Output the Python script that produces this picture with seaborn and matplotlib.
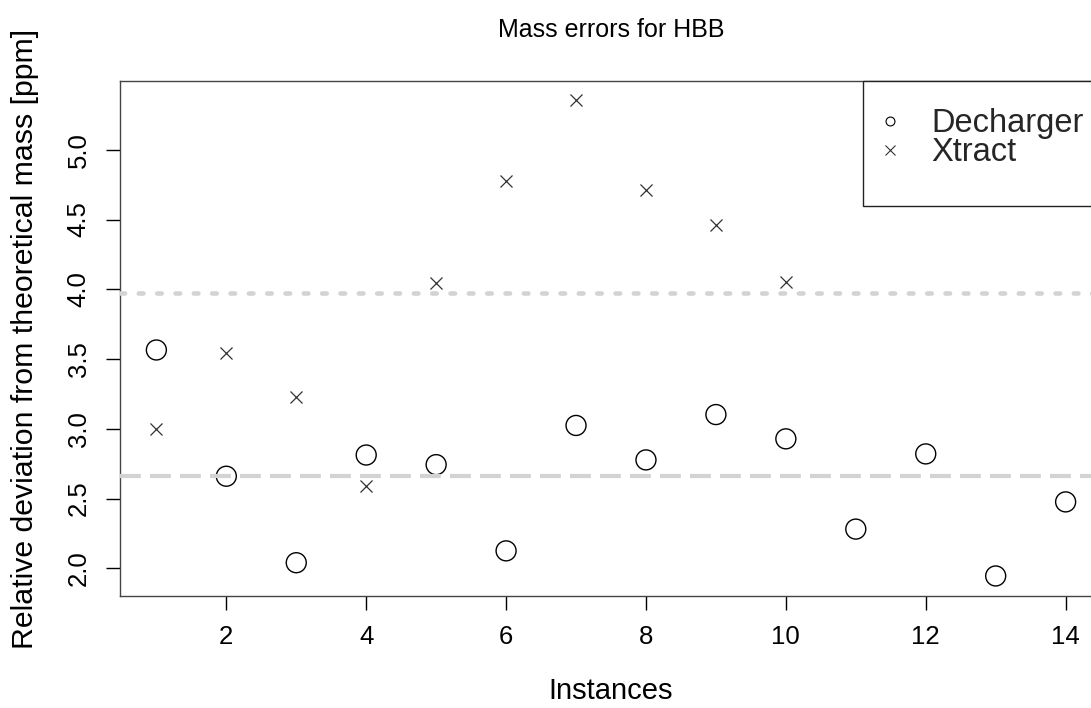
import numpy as np
import pandas as pd
import matplotlib
matplotlib.use("Agg")
import matplotlib.pyplot as plt
import seaborn as sns
from matplotlib.lines import Line2D
from matplotlib.patches import Rectangle

# ---- data ----
decharger_instances = list(range(1, 15))
decharger_values = [3.565, 2.66, 2.04, 2.812, 2.743, 2.125, 3.024, 2.777,
                    3.102, 2.928, 2.281, 2.82, 1.945, 2.476]
xtract_instances = list(range(1, 11))
xtract_values = [3.0, 3.54, 3.226, 2.59, 4.043, 4.774, 5.355, 4.713, 4.459, 4.052]
series_names = ["Decharger", "Xtract"]
title = "Mass errors for HBB"
x_label = "Instances"
y_label = "Relative deviation from theoretical mass [ppm]"
x_ticks = [2, 4, 6, 8, 10, 12, 14]
y_ticks = [2.0, 2.5, 3.0, 3.5, 4.0, 4.5, 5.0]
y_tick_labels = ["2.0", "2.5", "3.0", "3.5", "4.0", "4.5", "5.0"]

df_d = pd.DataFrame({"instance": decharger_instances, "value": decharger_values})
df_x = pd.DataFrame({"instance": xtract_instances, "value": xtract_values})

sns.set_style("white")
plt.rcParams["font.family"] = ["Liberation Sans", "DejaVu Sans"]

W, H = 1091, 708
fig = plt.figure(figsize=(W / 100, H / 100), dpi=100)
ax = fig.add_axes([120 / W, 112 / H, 982 / W, 515 / H])

sns.scatterplot(data=df_d, x="instance", y="value", marker="o", s=207,
                ax=ax, legend=False, zorder=3)
c = ax.collections[-1]
c.set_facecolor("none")
c.set_edgecolor("black")
c.set_linewidth(1.0)

sns.scatterplot(data=df_x, x="instance", y="value", marker="x", s=75,
                color="#333333", linewidth=0.9, ax=ax, legend=False, zorder=3)

ax.axhline(np.mean(xtract_values), color="#d3d3d3", lw=3.3,
           ls=(0, (1, 3.0)), dash_capstyle="round", zorder=4)
ax.axhline(np.mean(decharger_values), color="#d3d3d3", lw=3,
           ls=(0, (5.0, 2.2)), zorder=4)

ax.set_xlim(0.48, 14.52)
ax.set_ylim(1.8014, 5.4932)
ax.set_xticks(x_ticks)
ax.set_xticklabels([str(t) for t in x_ticks])
ax.set_yticks(y_ticks)
ax.set_yticklabels(y_tick_labels, rotation=90, va="center")
ax.tick_params(axis="both", direction="out", length=10, width=1,
               color="black", labelsize=18.5, pad=11, labelcolor="black",
               bottom=True, left=True)
for s in ax.spines.values():
    s.set_color("#444444")
    s.set_linewidth(1.0)

ax.set_title(title, fontsize=18, pad=32, color="black")
ax.set_xlabel(x_label, fontsize=21, color="black")
ax.xaxis.set_label_coords(0.5, -0.157)
ax.set_ylabel(y_label, fontsize=21.8, color="black")
ax.yaxis.set_label_coords(-0.0825, 0.5)

# legend box
fig.patches.append(Rectangle((863 / W, 1 - 206 / H), (1100 - 863) / W,
                             (206 - 81) / H, transform=fig.transFigure,
                             facecolor="white", edgecolor="#222222", lw=1.0,
                             zorder=5))
handles = [
    Line2D([], [], marker="o", ls="none", mfc="none", mec="black", ms=6.4, mew=0.8),
    Line2D([], [], marker="x", ls="none", color="#333333", ms=6.8, mew=0.8),
]
leg = fig.legend(handles, series_names, loc="upper left",
                 bbox_to_anchor=(863 / W + 14.8 / W, 1 - 108 / H),
                 bbox_transform=fig.transFigure, frameon=False, fontsize=23.5,
                 borderpad=0, borderaxespad=0, handlelength=0.75,
                 handletextpad=0.88, labelspacing=-0.05)
leg.set_zorder(6)

fig.savefig("out.png", dpi=100)
